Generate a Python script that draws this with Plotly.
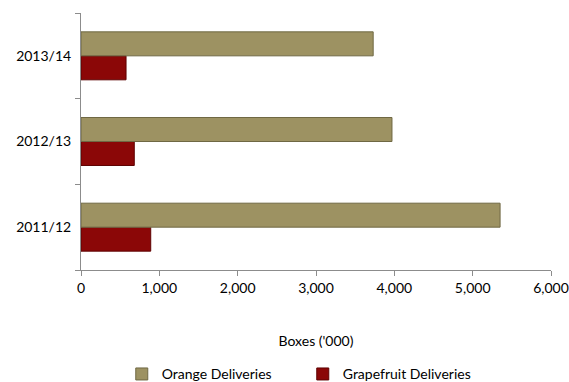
import plotly.graph_objects as go

seasons = ["2011/12", "2012/13", "2013/14"]
orange_deliveries = [5350, 3970, 3730]
grapefruit_deliveries = [890, 680, 575]

font_family = "Lato, 'Open Sans', sans-serif"

fig = go.Figure()
# Grapefruit added first so that it sits below orange within each season
fig.add_trace(go.Bar(
    y=seasons, x=grapefruit_deliveries, orientation="h",
    name="Grapefruit Deliveries", legendrank=2,
    marker=dict(color="#8B0707", line=dict(color="#5E0202", width=1)),
))
fig.add_trace(go.Bar(
    y=seasons, x=orange_deliveries, orientation="h",
    name="Orange Deliveries", legendrank=1,
    marker=dict(color="#9D9262", line=dict(color="#6F6843", width=1)),
))

fig.update_layout(
    width=569, height=382,
    margin=dict(l=81, r=18, t=13, b=112),
    paper_bgcolor="white", plot_bgcolor="white",
    barmode="group", bargap=0.44, bargroupgap=0.0,
    font=dict(family=font_family, size=14, color="#000000"),
    showlegend=True,
    legend=dict(orientation="h", xref="container", yref="container",
                x=0.214, xanchor="left", y=0.02, yanchor="middle",
                font=dict(size=14), itemwidth=30, entrywidthmode="pixels", entrywidth=136,
                traceorder="normal"),
)
fig.update_xaxes(
    range=[0, 6000], tickvals=[0, 1000, 2000, 3000, 4000, 5000, 6000],
    tickformat=",d", showgrid=False, zeroline=False, automargin=False,
    showline=True, linecolor="#8C8C8C", linewidth=1,
    ticks="outside", ticklen=5, tickcolor="#8C8C8C",
    title=dict(text="Boxes ('000)", standoff=41, font=dict(size=14)),
)
fig.update_yaxes(
    showgrid=False, zeroline=False,
    showline=True, linecolor="#8C8C8C", linewidth=1,
    ticks="outside", ticklen=5, tickcolor="#8C8C8C", tickson="boundaries",
    ticklabelstandoff=6,
)

fig.write_html("out.html")
